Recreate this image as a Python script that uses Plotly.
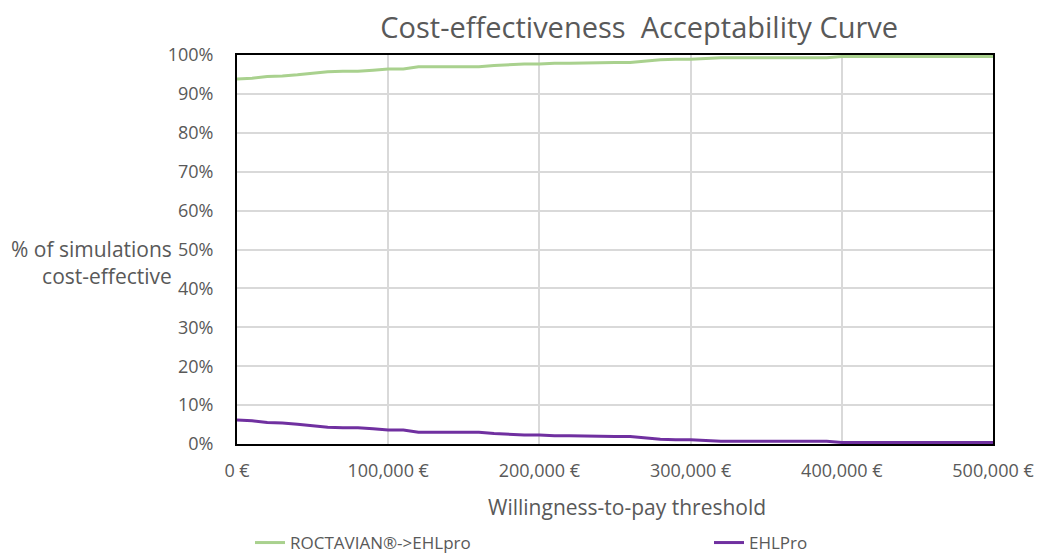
import plotly.graph_objects as go

# Willingness-to-pay thresholds (EUR), steps of 10,000
wtp = [i * 10000 for i in range(51)]

# Share of simulations cost-effective (%)
roctavian_ehlpro = [
    93.8, 94.0, 94.5, 94.6, 94.9, 95.3, 95.7, 95.8, 95.8, 96.1,
    96.4, 96.4, 97.0, 97.0, 97.0, 97.0, 97.0, 97.3, 97.5, 97.7,
    97.7, 97.9, 97.9, 98.0, 98.1, 98.1, 98.1, 98.4, 98.8, 98.9,
    98.9, 99.1, 99.3, 99.3, 99.3, 99.3, 99.3, 99.3, 99.3, 99.3,
    99.6, 99.6, 99.6, 99.6, 99.6, 99.6, 99.6, 99.6, 99.6, 99.6,
    99.6,
]
ehlpro = [
    6.2, 6.0, 5.5, 5.4, 5.1, 4.7, 4.3, 4.2, 4.2, 3.9,
    3.6, 3.6, 3.0, 3.0, 3.0, 3.0, 3.0, 2.7, 2.5, 2.3,
    2.3, 2.1, 2.1, 2.0, 1.9, 1.9, 1.9, 1.6, 1.2, 1.1,
    1.1, 0.9, 0.7, 0.7, 0.7, 0.7, 0.7, 0.7, 0.7, 0.7,
    0.4, 0.4, 0.4, 0.4, 0.4, 0.4, 0.4, 0.4, 0.4, 0.4,
    0.4,
]

x_tickvals = [0, 100000, 200000, 300000, 400000, 500000]
x_ticktext = ["0 €", "100,000 €", "200,000 €", "300,000 €", "400,000 €", "500,000 €"]
y_tickvals = list(range(0, 101, 10))
y_ticktext = [f"{v}%" for v in y_tickvals]

GREY = "#595959"
FONT = "Open Sans"

fig = go.Figure()
fig.add_trace(go.Scatter(
    x=wtp, y=roctavian_ehlpro, mode="lines", name="ROCTAVIAN®->EHLpro",
    line=dict(color="#a9d18e", width=3), legend="legend",
))
fig.add_trace(go.Scatter(
    x=wtp, y=ehlpro, mode="lines", name="EHLPro",
    line=dict(color="#7030a0", width=3), legend="legend2",
))

legend_common = dict(
    orientation="h", yanchor="middle", y=(444 - 543) / 389,
    xanchor="left", font=dict(family=FONT, size=17, color=GREY),
    bgcolor="rgba(0,0,0,0)", borderwidth=0,
)

fig.update_layout(
    width=1039, height=557,
    margin=dict(l=237, r=46, t=55, b=113, autoexpand=False),
    paper_bgcolor="white", plot_bgcolor="white",
    font=dict(family=FONT, color=GREY, size=18),
    title=dict(
        text="Cost-effectiveness  Acceptability Curve",
        xref="paper", x=0.532, xanchor="center",
        yref="container", y=1 - 28 / 557, yanchor="middle",
        font=dict(family=FONT, size=29, color=GREY),
    ),
    showlegend=True,
    legend=dict(x=(250 - 237) / 756, **legend_common),
    legend2=dict(x=(709 - 237) / 756, **legend_common),
    xaxis=dict(
        range=[0, 500000], tickvals=x_tickvals, ticktext=x_ticktext,
        showgrid=True, gridcolor="#d9d9d9", gridwidth=2,
        showline=True, linecolor="black", linewidth=2, mirror=True,
        zeroline=False, ticks="", ticklabelstandoff=9,
        tickfont=dict(family=FONT, size=18, color=GREY),
    ),
    yaxis=dict(
        range=[0, 100], tickvals=y_tickvals, ticktext=y_ticktext,
        showgrid=True, gridcolor="#d9d9d9", gridwidth=2,
        showline=True, linecolor="black", linewidth=2, mirror=True,
        zeroline=False, ticks="", ticklabelstandoff=18,
        tickfont=dict(family=FONT, size=18, color=GREY),
    ),
    annotations=[
        dict(
            text="% of simulations<br>cost-effective",
            xref="paper", yref="paper", x=(174 - 237) / 756, y=(444 - 262) / 389,
            xanchor="right", yanchor="middle", align="right",
            showarrow=False, font=dict(family=FONT, size=21, color=GREY),
        ),
        dict(
            text="Willingness-to-pay threshold",
            xref="paper", yref="paper", x=(627 - 237) / 756, y=(444 - 507) / 389,
            xanchor="center", yanchor="middle",
            showarrow=False, font=dict(family=FONT, size=21, color=GREY),
        ),
    ],
)

fig.write_html("out.html")
